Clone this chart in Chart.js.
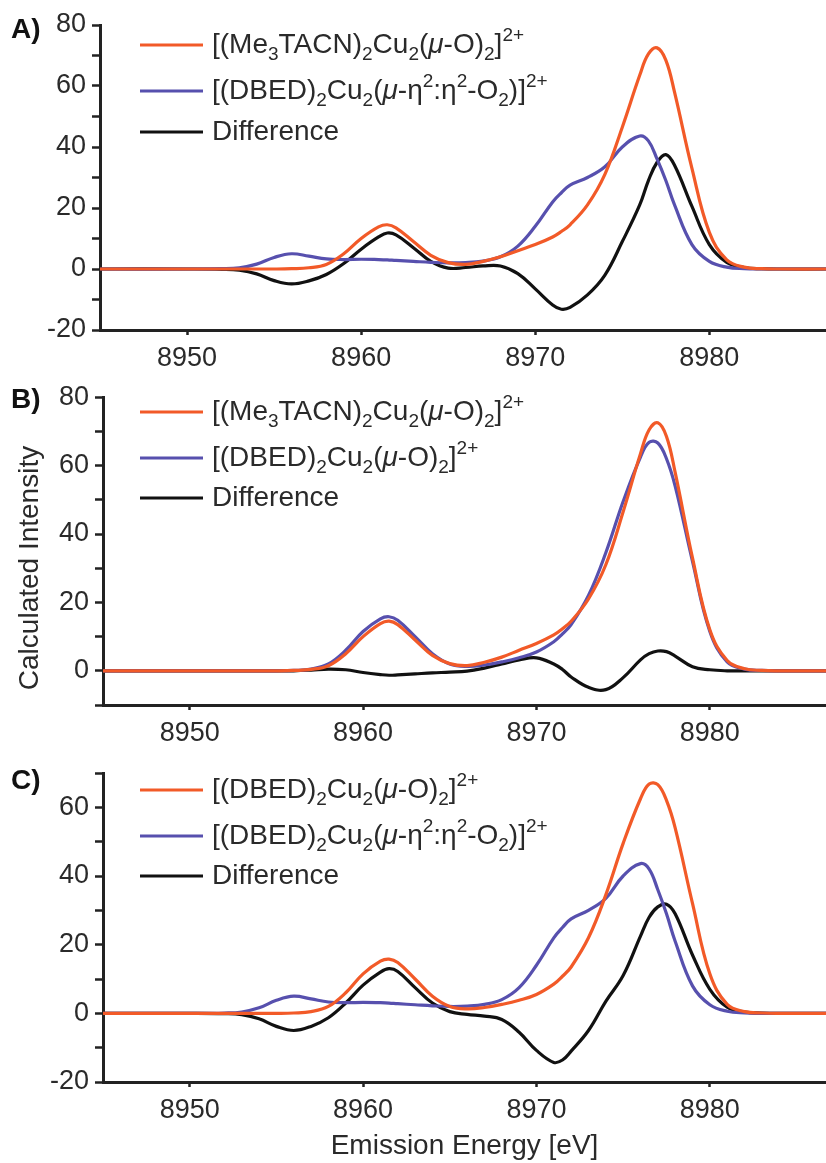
<!DOCTYPE html>
<html>
<head>
<meta charset="utf-8">
<title>Calculated Cu K-beta emission spectra</title>
<script src="https://cdn.jsdelivr.net/npm/chart.js@4.4.1/dist/chart.umd.min.js"></script>
<style>
  html, body { margin: 0; padding: 0; background: #fff; }
  #figure { position: relative; width: 826px; height: 1163px; overflow: hidden; }
  #figure canvas { position: absolute; left: 0; }
</style>
</head>
<body>
<div id="figure">
  <canvas id="panelA" width="826" height="375" style="top:0px"></canvas>
  <canvas id="panelB" width="826" height="375" style="top:375px"></canvas>
  <canvas id="panelC" width="826" height="413" style="top:750px"></canvas>
</div>
<script>
// emission energy grid (eV), shared by every curve
const energy = [8945, 8950, 8952, 8953, 8954, 8955, 8956, 8957, 8958, 8959,
  8960, 8961, 8961.5, 8962, 8963, 8964, 8965, 8966, 8967, 8968,
  8969, 8970, 8971, 8971.5, 8972, 8973, 8974, 8975, 8976, 8976.5,
  8977, 8977.5, 8978, 8979, 8980, 8981, 8982, 8983, 8984, 8987];

// [(Me3TACN)2Cu2(mu-O)2]2+
const me3tacnOxo = [0, 0, 0, 0, 0, 0, 0.1, 0.4, 1.5, 5,
  10, 13.8, 14.5, 13.5, 9, 4.5, 2.1, 1.5, 2.5, 4,
  6, 8, 10.5, 12.3, 14.5, 21, 31, 46.5, 63.5, 70.5,
  72.5, 68.5, 58, 33, 12, 3, 0.6, 0.1, 0, 0];

// [(DBED)2Cu2(mu-O)2]2+
const dbedOxo = [0, 0, 0, 0, 0, 0, 0.1, 0.5, 2, 6,
  11.5, 15.2, 15.8, 14.8, 10, 5, 2, 1.3, 1.7, 2.6,
  3.8, 5.5, 8.5, 10.8, 13.5, 22, 34.5, 49.5, 62.5, 66.8,
  66.6, 62, 54, 32, 11.5, 2.6, 0.5, 0.1, 0, 0];

// [(DBED)2Cu2(mu-eta2:eta2-O2)]2+
const dbedPeroxo = [0, 0, 0.1, 0.4, 1.6, 3.8, 5, 4.2, 3.3, 3.1,
  3.2, 3.1, 3, 2.8, 2.5, 2.2, 2, 2.1, 2.6, 4,
  7.5, 14, 22, 25, 27.5, 30, 33.5, 40, 43.6, 42,
  36, 29, 21, 8, 2.5, 0.6, 0.1, 0, 0, 0];

// difference spectra
const diffA = [0, 0, -0.1, -0.4, -1.6, -3.8, -4.9, -3.9, -1.8, 1.8,
  6.5, 10.5, 11.8, 11.2, 7, 2.5, 0.3, 0.5, 1, 1,
  -1.5, -6.5, -11.8, -13.2, -12.6, -8.5, -2, 9, 21, 29,
  35, 37.5, 34, 20.5, 8, 2.2, 0.5, 0.1, 0, 0];

const diffB = [0, 0, 0, 0, 0, 0, 0, 0.2, 0.5, 0.3,
  -0.5, -1.1, -1.3, -1.2, -0.9, -0.6, -0.4, -0.1, 0.8, 2,
  3.2, 3.8, 2, 0.4, -1.8, -4.8, -5.5, -2, 3.2, 5,
  5.8, 5.6, 4.3, 1.2, 0.3, 0, 0, 0, 0, 0];

const diffC = [0, 0, -0.1, -0.4, -1.6, -3.8, -5, -3.8, -1.3, 3,
  8.2, 12, 13, 12.2, 7.5, 3, 0.5, -0.3, -0.8, -1.8,
  -5.5, -10.8, -14.3, -13.6, -11, -5, 3.5, 11, 22.5, 28,
  31, 31.8, 29, 17, 7, 1.8, 0.4, 0.1, 0, 0];

const xTicks = [8950, 8960, 8970, 8980];
const yTicksA = [-20, -10, 0, 10, 20, 30, 40, 50, 60, 70, 80];
const yTicksB = [-10, 0, 10, 20, 30, 40, 50, 60, 70, 80];
const yTicksC = [-20, -10, 0, 10, 20, 30, 40, 50, 60, 70];

// legend names as rich text runs: [text, kind]
const nameMe3tacnOxo = [['[(Me', ''], ['3', 'sub'], ['TACN)', ''], ['2', 'sub'], ['Cu', ''], ['2', 'sub'],
  ['(', ''], ['\u03bc', 'it'], ['-O)', ''], ['2', 'sub'], [']', ''], ['2+', 'sup']];
const nameDbedOxo = [['[(DBED)', ''], ['2', 'sub'], ['Cu', ''], ['2', 'sub'],
  ['(', ''], ['\u03bc', 'it'], ['-O)', ''], ['2', 'sub'], [']', ''], ['2+', 'sup']];
const nameDbedPeroxo = [['[(DBED)', ''], ['2', 'sub'], ['Cu', ''], ['2', 'sub'],
  ['(', ''], ['\u03bc', 'it'], ['-\u03b7', ''], ['2', 'sup'], [':\u03b7', ''], ['2', 'sup'],
  ['-O', ''], ['2', 'sub'], [')]', ''], ['2+', 'sup']];
const nameDiff = [['Difference', '']];

const FONT = '"Liberation Sans", Arial, Helvetica, sans-serif';
const textColor = '#2a2a2a';
const axisColor = '#222222';
const lineColors = ['#F25A28', '#5750AE', '#111111'];

Chart.defaults.font.family = FONT;
Chart.defaults.color = textColor;

function plainName(runs) {
  return runs.map(r => r[0]).join('');
}

function drawRich(ctx, runs, x, baseY) {
  ctx.textAlign = 'left';
  ctx.textBaseline = 'alphabetic';
  ctx.fillStyle = textColor;
  for (const [text, kind] of runs) {
    let size = 28, dy = 0, style = '';
    if (kind === 'sub') { size = 19; dy = 7; }
    if (kind === 'sup') { size = 19; dy = -12; }
    if (kind === 'it') style = 'italic ';
    ctx.font = style + size + 'px ' + FONT;
    ctx.fillText(text, x, baseY + dy);
    x += ctx.measureText(text).width;
  }
}

// panel letter, legend and (for B) the shared y-axis title
function decorations(panel) {
  return {
    id: 'decor' + panel.tag,
    afterDraw(chart) {
      const ctx = chart.ctx;
      ctx.save();
      ctx.font = 'bold 28px ' + FONT;
      ctx.fillStyle = '#111';
      ctx.textAlign = 'left';
      ctx.textBaseline = 'middle';
      ctx.fillText(panel.tag + ')', 11, panel.tagY);

      panel.names.forEach((runs, i) => {
        const y = panel.legendY[i];
        ctx.strokeStyle = lineColors[i];
        ctx.lineWidth = 3;
        ctx.beginPath();
        ctx.moveTo(140, y);
        ctx.lineTo(203, y);
        ctx.stroke();
        drawRich(ctx, runs, 212, y + 8);
      });

      if (panel.yTitle) {
        ctx.translate(30, panel.yTitle.y);
        ctx.rotate(-Math.PI / 2);
        ctx.font = '28px ' + FONT;
        ctx.fillStyle = textColor;
        ctx.textAlign = 'center';
        ctx.textBaseline = 'middle';
        ctx.fillText(panel.yTitle.text, 0, 0);
      }
      ctx.restore();
    }
  };
}

function makePanel(panel) {
  const datasets = panel.series.map((ys, i) => ({
    label: plainName(panel.names[i]),
    data: energy.map((x, k) => ({ x: x, y: ys[k] })),
    borderColor: lineColors[i],
    borderWidth: 3.2,
    pointRadius: 0,
    fill: false,
    tension: 0.4
  }));

  return new Chart(document.getElementById(panel.id), {
    type: 'line',
    data: { datasets: datasets },
    options: {
      responsive: false,
      animation: false,
      devicePixelRatio: 1,
      events: [],
      layout: { padding: { top: panel.padTop, left: 0, right: 0, bottom: 0 } },
      plugins: { legend: { display: false }, tooltip: { enabled: false } },
      scales: {
        x: {
          type: 'linear',
          min: 8945,
          max: 8986.7,
          afterBuildTicks: s => { s.ticks = xTicks.map(v => ({ value: v })); },
          afterFit: s => { s.height = panel.xHeight; },
          grid: { display: true, drawOnChartArea: false, drawTicks: true, tickLength: 5, tickWidth: 2.5, tickColor: axisColor },
          border: { display: true, color: axisColor, width: 3 },
          ticks: { font: { size: 27 }, color: textColor, padding: 7, maxRotation: 0, autoSkip: false,
                   callback: v => String(v) },
          title: panel.xTitle
            ? { display: true, text: panel.xTitle, font: { size: 28 }, color: textColor, padding: { top: 0, bottom: 0 } }
            : { display: false }
        },
        y: {
          type: 'linear',
          min: panel.yTicks[0],
          max: panel.yTicks[panel.yTicks.length - 1],
          afterBuildTicks: s => { s.ticks = panel.yTicks.map(v => ({ value: v })); },
          afterFit: s => { s.width = panel.yWidth; },
          grid: { display: true, drawOnChartArea: false, drawTicks: true, tickLength: 8, tickWidth: 2.5, tickColor: axisColor },
          border: { display: true, color: axisColor, width: 3 },
          ticks: {
            font: { size: 27 },
            color: textColor,
            padding: 6,
            autoSkip: false,
            callback: v => (v % 20 === 0 ? String(v) : '')
          }
        }
      }
    },
    plugins: [decorations(panel)]
  });
}

makePanel({
  id: 'panelA', tag: 'A', tagY: 30,
  padTop: 25, xHeight: 45, yWidth: 100,
  yTicks: yTicksA,
  series: [me3tacnOxo, dbedPeroxo, diffA],
  names: [nameMe3tacnOxo, nameDbedPeroxo, nameDiff],
  legendY: [45, 91, 132]
});

makePanel({
  id: 'panelB', tag: 'B', tagY: 25,
  padTop: 20, xHeight: 45, yWidth: 103,
  yTicks: yTicksB,
  series: [me3tacnOxo, dbedOxo, diffB],
  names: [nameMe3tacnOxo, nameDbedOxo, nameDiff],
  legendY: [37, 83, 123],
  yTitle: { text: 'Calculated Intensity', y: 193 }
});

makePanel({
  id: 'panelC', tag: 'C', tagY: 31,
  padTop: 23, xHeight: 81, yWidth: 103,
  yTicks: yTicksC,
  series: [dbedOxo, dbedPeroxo, diffC],
  names: [nameDbedOxo, nameDbedPeroxo, nameDiff],
  legendY: [40, 86, 126],
  xTitle: 'Emission Energy [eV]'
});
</script>
</body>
</html>
